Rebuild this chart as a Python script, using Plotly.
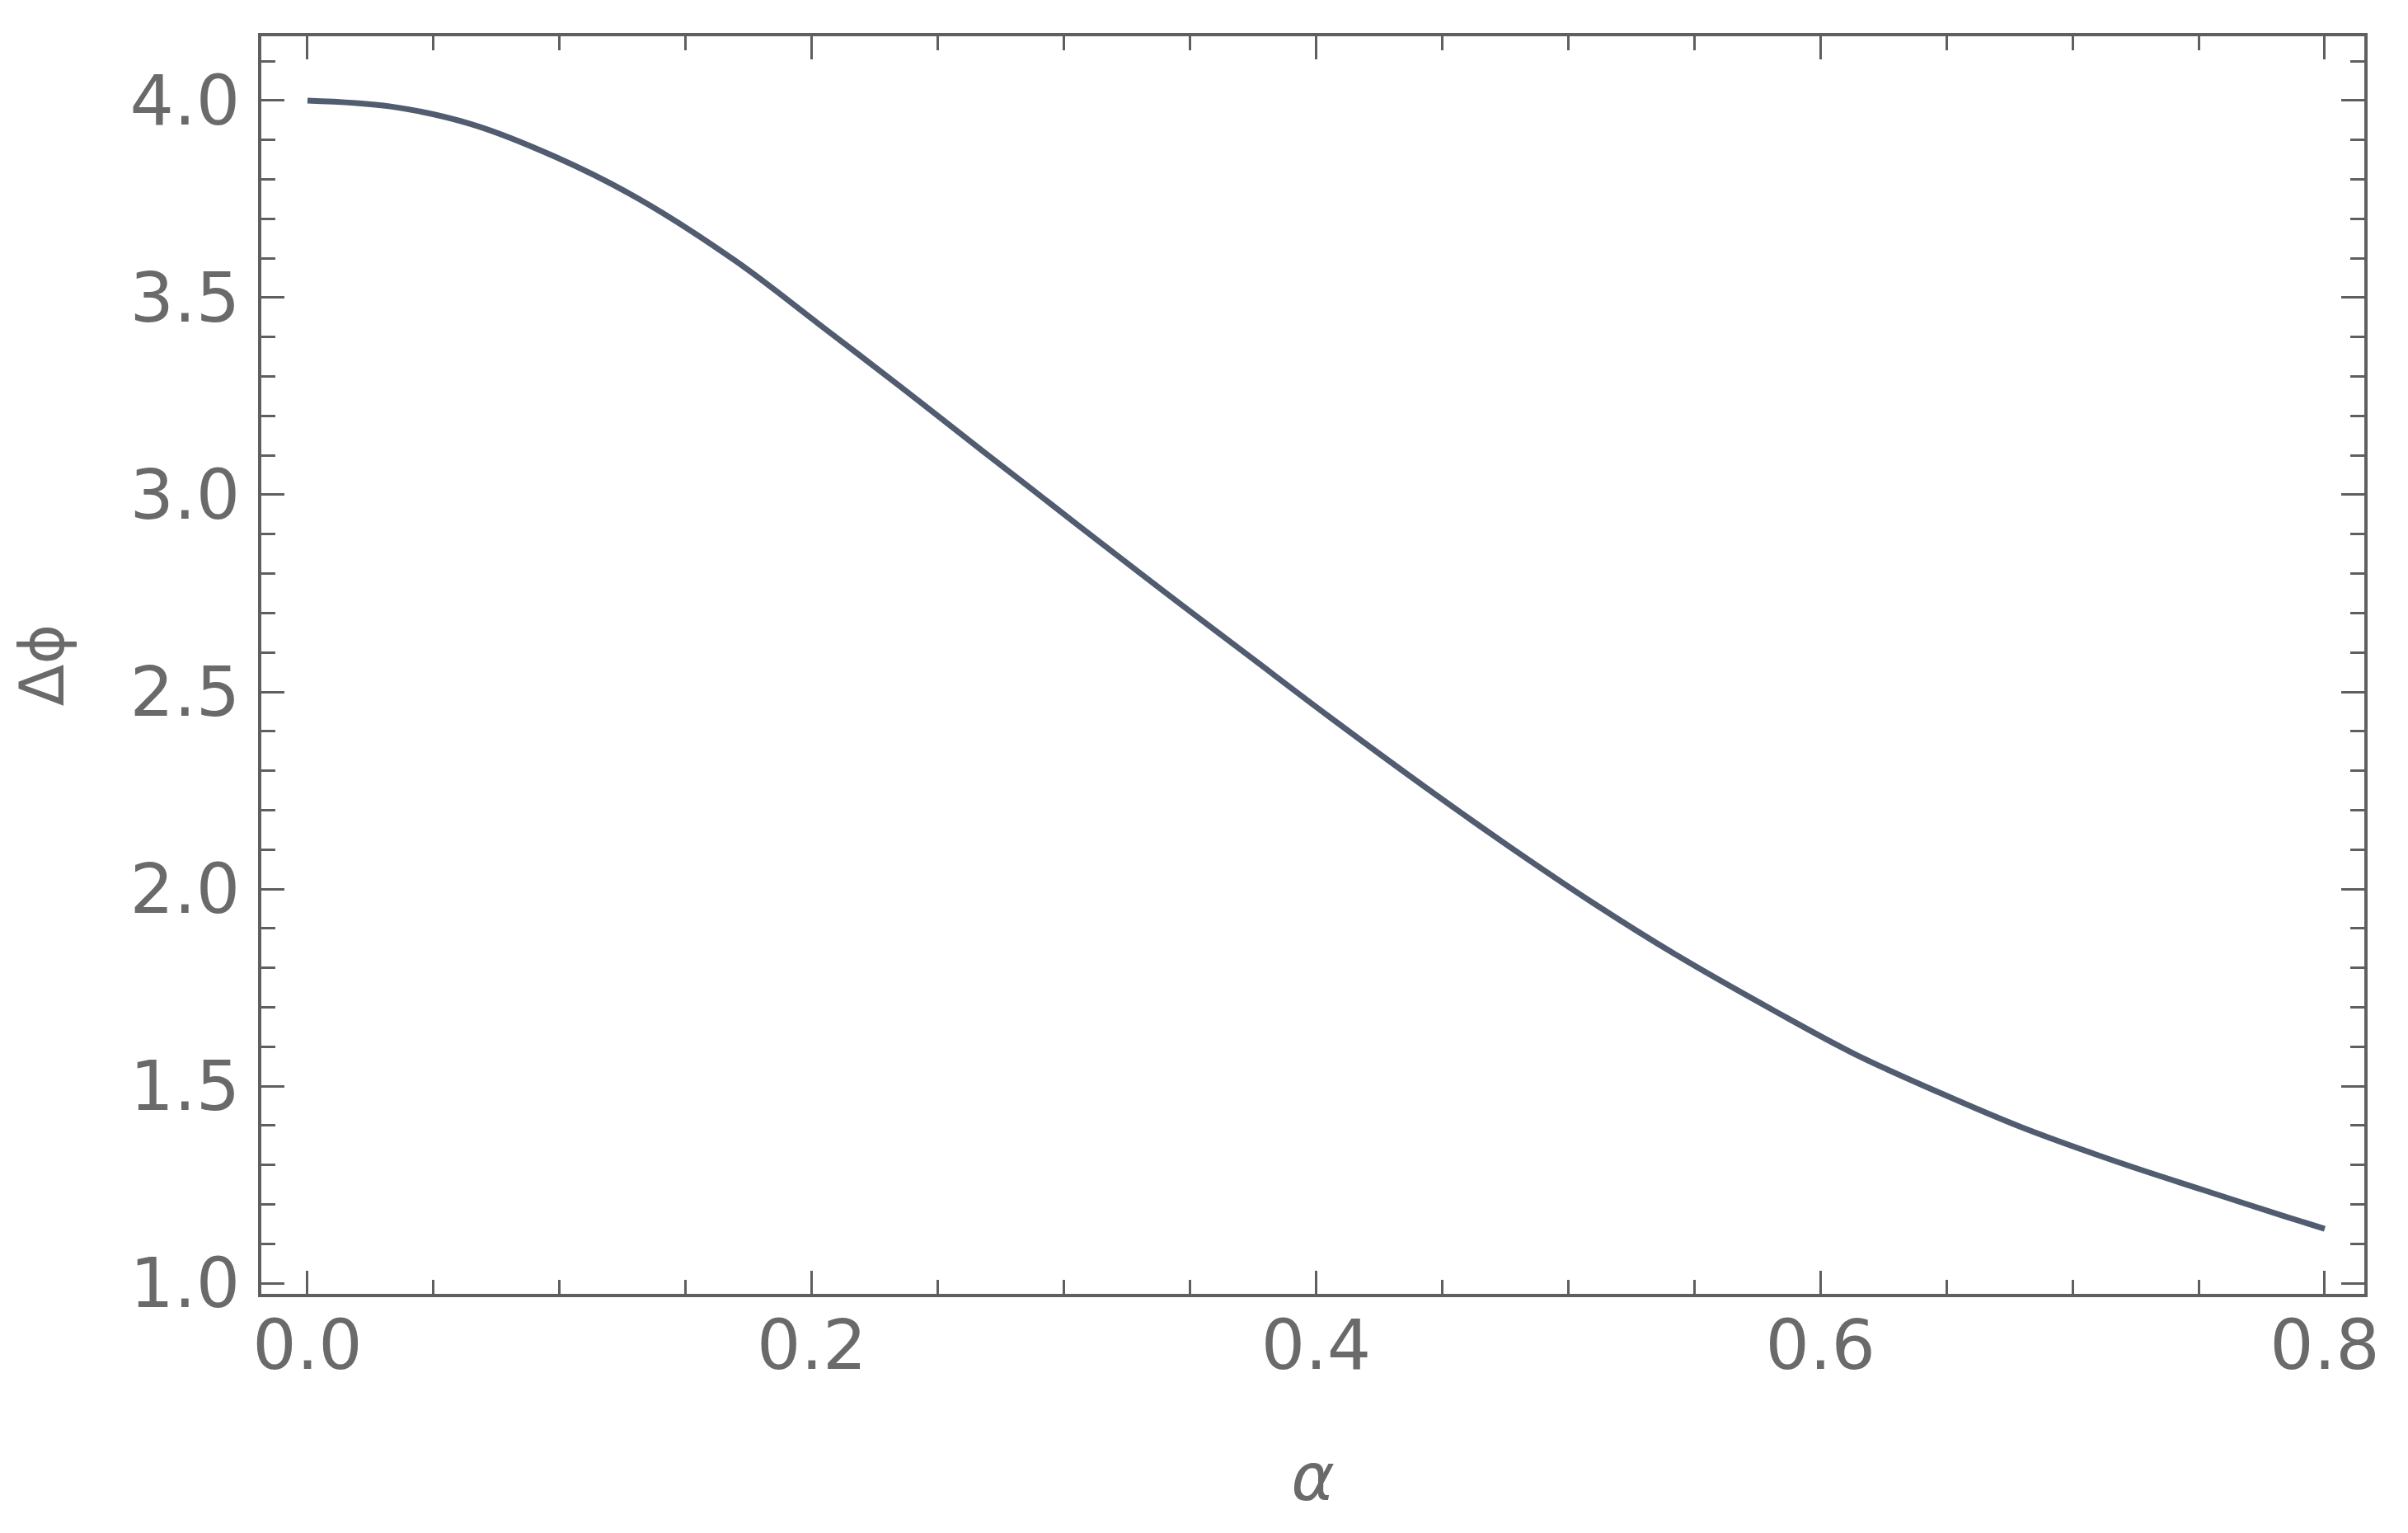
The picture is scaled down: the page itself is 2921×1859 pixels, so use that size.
import plotly.graph_objects as go

# Data
alpha = [0.000, 0.033, 0.065, 0.098, 0.131, 0.170, 0.203, 0.235, 0.268,
         0.307, 0.340, 0.373, 0.405, 0.444, 0.477, 0.510, 0.543, 0.582,
         0.614, 0.647, 0.680, 0.719, 0.752, 0.784, 0.800]
dphi = [4.000, 3.985, 3.940, 3.858, 3.752, 3.592, 3.432, 3.275, 3.110,
        2.916, 2.753, 2.593, 2.438, 2.255, 2.106, 1.964, 1.832, 1.690,
        1.580, 1.484, 1.395, 1.305, 1.236, 1.170, 1.138]

x_ticks = [0.0, 0.2, 0.4, 0.6, 0.8]
y_ticks = [1.0, 1.5, 2.0, 2.5, 3.0, 3.5, 4.0]

FONT = "DejaVu Sans"
LABEL_COLOR = "#6a6a6a"
FRAME_COLOR = "#5f5f5f"

fig = go.Figure()
fig.add_trace(go.Scatter(
    x=alpha, y=dphi, mode="lines",
    line=dict(color="#525c70", width=7, shape="spline", smoothing=1.0),
    showlegend=False,
))

axis_common = dict(
    showline=True, linecolor=FRAME_COLOR, linewidth=4, mirror="allticks",
    ticks="inside", tickcolor=FRAME_COLOR, tickwidth=3,
    showgrid=False, zeroline=False,
    tickfont=dict(family=FONT, size=84, color=LABEL_COLOR),
    tickformat=".1f",
)

fig.update_layout(
    width=2921, height=1859,
    paper_bgcolor="white", plot_bgcolor="white",
    margin=dict(l=309, r=61, t=36, b=298, autoexpand=False),
    xaxis=dict(
        **axis_common,
        range=[-0.0183, 0.8157], tickvals=x_ticks, ticklen=28,
        minor=dict(dtick=0.05, tick0=0, ticks="inside", ticklen=17,
                   tickwidth=3, tickcolor=FRAME_COLOR),
        ticklabelstandoff=-14,
        title=dict(text="<i>α</i>", standoff=85,
                   font=dict(family=FONT, size=80, color=LABEL_COLOR)),
        automargin=False,
    ),
    yaxis=dict(
        **axis_common,
        range=[0.973, 4.163], tickvals=y_ticks, ticklen=28,
        minor=dict(dtick=0.1, tick0=1.0, ticks="inside", ticklen=17,
                   tickwidth=3, tickcolor=FRAME_COLOR),
        ticklabelstandoff=5,
        title=dict(text="Δϕ", standoff=60,
                   font=dict(family=FONT, size=74, color=LABEL_COLOR)),
        automargin=False,
    ),
)

fig.write_html("out.html")
